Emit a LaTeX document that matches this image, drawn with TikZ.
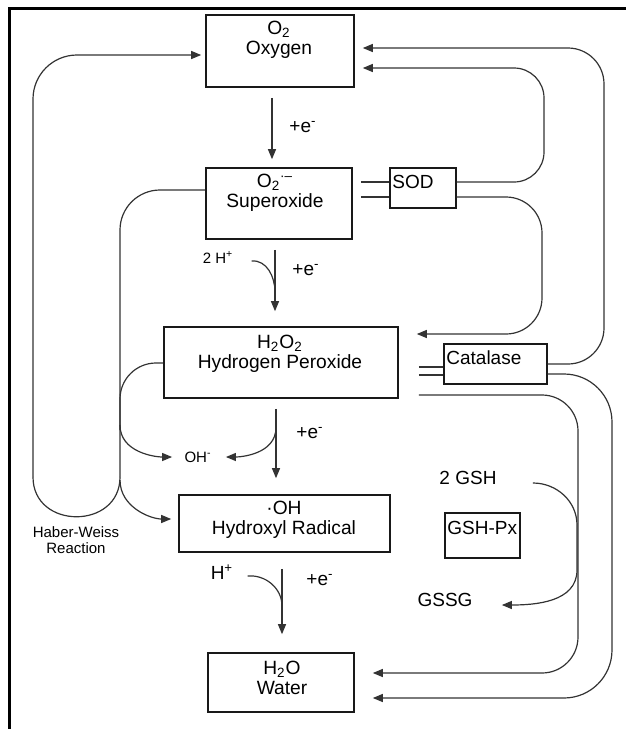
\documentclass[tikz,border=0pt]{standalone}
\usepackage{fontspec}
\setmainfont{Liberation Sans}
\usepackage{tikz}
\usetikzlibrary{arrows.meta,positioning}

\begin{document}
\begin{tikzpicture}[x=0.5pt,y=-0.5pt,
box/.style={draw=black!90,rectangle,line width=0.8pt,inner sep=0pt},
enz/.style={draw=black!90,rectangle,line width=0.7pt,inner sep=0pt},
btxt/.style={align=center,font=\fontsize{9.6}{10}\selectfont,inner sep=0pt},
etxt/.style={anchor=west,font=\fontsize{9.5}{10}\selectfont,inner sep=1pt},
gtxt/.style={font=\fontsize{9.5}{10}\selectfont,inner sep=1pt},
smalltxt/.style={align=center,font=\fontsize{7.5}{8}\selectfont,inner sep=1pt},
elec/.style={font=\fontsize{9.5}{10}\selectfont,inner sep=1pt},
conn/.style={line width=0.6pt,draw=black!80},
arr/.style={conn,-{Triangle[length=5pt,width=4pt]},color=black!80}]
\useasboundingbox (0,0) rectangle (626,729);
\draw[line width=1.5pt] (626,8) -- (9,8) -- (9,729);

% species
\node[box,minimum width=74pt,minimum height=36pt] (oxy) at (280,51) {};
\node[box,minimum width=73pt,minimum height=35.5pt] (supo) at (279,203.5) {};
\node[box,minimum width=117pt,minimum height=35.5pt] (hper) at (281,362.5) {};
\node[box,minimum width=105.5pt,minimum height=28.5pt] (hyd) at (284.5,523.5) {};
\node[box,minimum width=73pt,minimum height=29.5pt] (wat) at (281,682.5) {};
\node[btxt] (oxyt) at (279,40) {O\textsubscript{2}\\Oxygen};
\node[btxt] (supot) at (275,193) {O\textsubscript{2}\textsuperscript{·–}\\Superoxide};
\node[btxt] (hpert) at (280,354) {H\textsubscript{2}O\textsubscript{2}\\Hydrogen Peroxide};
\node[btxt] (hydt) at (284,520) {·OH\\Hydroxyl Radical};
\node[btxt] (watt) at (282,678) {H\textsubscript{2}O\\Water};

% enzymes
\node[enz,minimum width=33pt,minimum height=20pt] (sod) at (423,188) {};
\node[enz,minimum width=51.5pt,minimum height=20pt] (cat) at (495.5,364) {};
\node[enz,minimum width=37.5pt,minimum height=22.5pt] (gpx) at (482.5,535.5) {};
\node[etxt] (sodt) at (390,182) {SOD};
\node[etxt] (catt) at (444,358) {Catalase};
\node[etxt] (gpxt) at (445,528) {GSH-Px};

% labels
\node[elec] (e1) at (303,127) {+e\textsuperscript{-}};
\node[elec] (e2) at (306,270) {+e\textsuperscript{-}};
\node[elec] (e3) at (310,433) {+e\textsuperscript{-}};
\node[elec] (e4) at (320,580) {+e\textsuperscript{-}};
\node[smalltxt] (twoh) at (218,257) {2 H\textsuperscript{+}};
\node[smalltxt] (ohm) at (198,457) {OH\textsuperscript{-}};
\node[elec] (hp) at (222,572) {H\textsuperscript{+}};
\node[gtxt] (gsh) at (468,478) {2 GSH};
\node[gtxt] (gssg) at (445,600) {GSSG};
\node[smalltxt] (hw) at (76,540) {Haber-Weiss\\Reaction};
\coordinate (hwa) at (120,425);
\coordinate (hwb) at (120,480);
\coordinate (hwr) at (120,477);
\coordinate (hwl) at (33,477);

% reduction steps
\draw[arr,shorten <=5pt,shorten >=4pt] (oxy.south -| 272,0) -- (supo.north -| 272,0);
\draw[arr,shorten <=5pt,shorten >=7.5pt] (supo.south -| 275,0) -- (hper.north -| 275,0);
\draw[conn] ([xshift=8pt,yshift=-2pt]twoh.east) to[out=5,in=90] (275,292);
\draw[arr,shorten <=5pt,shorten >=8pt] (hper.south -| 276,0) -- coordinate[pos=0.3] (br1) (hyd.north -| 276,0);
\draw[arr,shorten >=6pt] (br1) to[out=-90,in=0] (ohm.east);
\draw[arr,shorten <=8pt,shorten >=9pt] (hyd.south -| 282,0) -- (wat.north -| 282,0);
\draw[conn] ([xshift=6pt,yshift=-2pt]hp.east) to[out=5,in=90] (282,606);

% enzyme reactions
\draw[conn,shorten <=4pt] (supo.east |- 0,182) -- (sod.west |- 0,182);
\draw[conn,shorten <=4pt] (supo.east |- 0,197) -- (sod.west |- 0,197);
\draw[arr,rounded corners=15pt,shorten >=4pt] (sod.east |- 0,182) -| (544,68) -- (oxy.east |- 0,68);
\draw[arr,rounded corners=18pt,shorten >=9pt] (sod.east |- 0,197) -| (542,334) -- (hper.east |- 0,334);
\draw[conn,shorten <=10pt] (hper.east |- 0,367) -- (cat.west |- 0,367);
\draw[conn,shorten <=10pt] (hper.east |- 0,375) -- (cat.west |- 0,375);
\draw[arr,rounded corners=18pt,shorten >=4pt] (cat.east |- 0,364) -| (604,48) -- (oxy.east |- 0,48);
\draw[arr,rounded corners=24pt,shorten >=9pt] (cat.east |- 0,374) -| (612,698) -- (wat.east |- 0,698);
\draw[arr,rounded corners=18pt,shorten <=10pt,shorten >=9pt] (hper.east |- 0,395) -| (578,673) -- (wat.east |- 0,673);
\draw[arr] ([xshift=17pt,yshift=-2.5pt]gsh.east) to[out=0,in=90] (577,525) -- (577,570) to[out=-90,in=0] ([xshift=13.5pt,yshift=-2.5pt]gssg.east);

% Haber-Weiss
\draw[conn,rounded corners=20pt] (supo.west |- 0,190) -| (hwr);
\draw[conn] (hwr) .. controls (120,530) and (33,530) .. (hwl);
\draw[arr,rounded corners=22pt,shorten >=2pt] (hwl) |- (oxy.west |- 0,55);
\draw[conn,rounded corners=18pt] (hper.west |- 0,363) -| (120,430);
\draw[arr,shorten >=5pt] (hwa) to[out=-90,in=180] (ohm.west);
\draw[arr,shorten >=3.5pt] (hwb) to[out=-90,in=180] (hyd.west |- 0,519);
\end{tikzpicture}
\end{document}
